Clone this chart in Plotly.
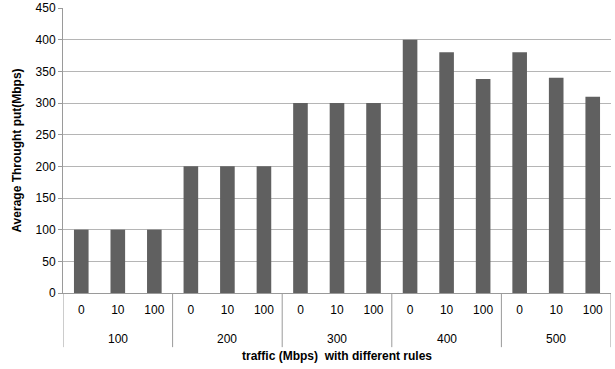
import plotly.graph_objects as go

groups = ["100", "200", "300", "400", "500"]
rules = ["0", "10", "100"]
throughput = [100, 100, 100, 200, 200, 200, 300, 300, 300,
              400, 380, 338, 380, 340, 310]

n_rules = len(rules)
xpos = list(range(len(throughput)))
tick_text = rules * len(groups)

font = "Liberation Sans, Arial"
axis_gray = "#9a9a9a"

fig = go.Figure(go.Bar(
    x=xpos, y=throughput,
    marker=dict(color="#606060", line=dict(width=0)),
    width=0.4,
))

fig.update_layout(
    width=615, height=369,
    margin=dict(l=63, r=4, t=8, b=76),
    paper_bgcolor="white", plot_bgcolor="white",
    showlegend=False,
    font=dict(family=font, size=12, color="#000000"),
)
fig.update_yaxes(
    range=[0, 450], dtick=50,
    showgrid=True, gridcolor="#b5b5b5", gridwidth=1,
    showline=True, linecolor=axis_gray, linewidth=1,
    ticks="outside", ticklen=4, tickcolor=axis_gray,
    zeroline=False, automargin=False,
    tickfont=dict(size=12),
    title=dict(text="<b>Average Throught put(Mbps)</b>", font=dict(size=12), standoff=11),
)
fig.update_xaxes(
    range=[-0.5, len(throughput) - 0.5],
    tickmode="array", tickvals=xpos, ticktext=tick_text,
    showline=True, linecolor=axis_gray, linewidth=1,
    showgrid=False, zeroline=False,
    ticks="", tickfont=dict(size=12), ticklabelstandoff=6,
    automargin=False,
    title=dict(text="<b>traffic (Mbps)  with different rules</b>", font=dict(size=12), standoff=35),
)

# group labels and dividers
for gi, g in enumerate(groups):
    center = gi * n_rules + (n_rules - 1) / 2
    fig.add_annotation(x=center, xref="x", y=0, yref="paper",
                       text=g, showarrow=False, yanchor="top", yshift=-37,
                       font=dict(size=12))
for gi in range(len(groups) + 1):
    b = gi * n_rules - 0.5
    fig.add_shape(type="line", xref="x", yref="paper",
                  x0=b, x1=b, y0=0, y1=-0.19,
                  line=dict(color=axis_gray, width=1))

fig.write_html("out.html",
               config={"displayModeBar": False},
               post_script="document.body.style.margin='0';document.body.style.overflow='hidden';")
